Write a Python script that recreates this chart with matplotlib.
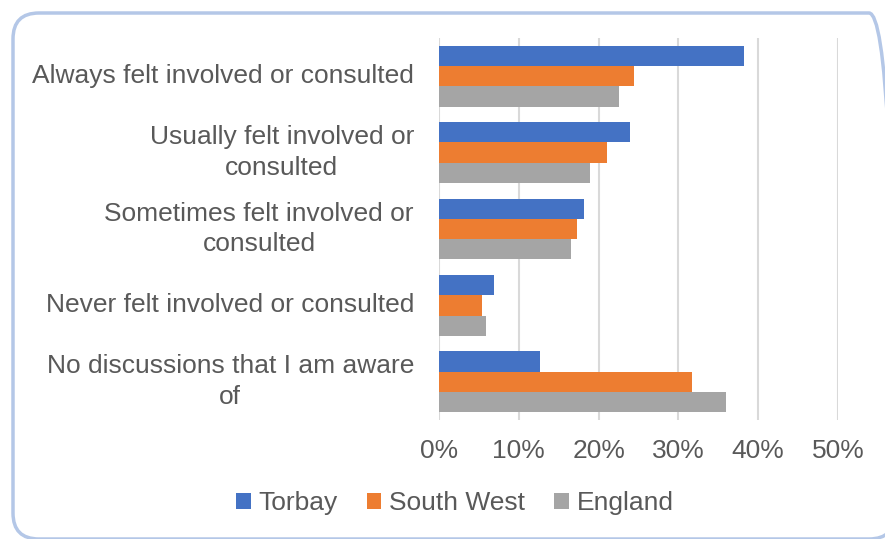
import numpy as np
import matplotlib
matplotlib.use("Agg")
import matplotlib.pyplot as plt
from matplotlib.patches import FancyBboxPatch
from matplotlib.ticker import PercentFormatter

plt.rcParams['font.family'] = ['Liberation Sans', 'DejaVu Sans']

categories = ["Always felt involved or consulted",
              "Usually felt involved or\nconsulted",
              "Sometimes felt involved or\nconsulted",
              "Never felt involved or consulted",
              "No discussions that I am aware\nof"]
series_names = ["Torbay", "South West", "England"]
torbay = [38.2, 23.9, 18.2, 6.9, 12.6]
south_west = [24.4, 21.0, 17.3, 5.4, 31.7]
england = [22.6, 18.9, 16.5, 5.9, 36.0]
xticks = [0, 10, 20, 30, 40, 50]

colors = ["#4472C4", "#ED7D31", "#A5A5A5"]
text_col = "#595959"

fig = plt.figure(figsize=(8.85, 5.39), dpi=100)
ax = fig.add_axes([439/885, 1-420/539, (838-439)/885, (420-38)/539])

# rounded frame around the whole chart (in inches)
frame = FancyBboxPatch((0.13, 0.0), 8.82, 5.26, boxstyle="round,pad=0,rounding_size=0.26",
                       transform=fig.dpi_scale_trans, facecolor="none", edgecolor="#B4C7E7",
                       linewidth=2.5, zorder=0)
fig.patches.append(frame)

y = np.arange(len(categories))
h = 0.265
for i, (vals, name) in enumerate(zip([torbay, south_west, england], series_names)):
    ax.barh(y + (i - 1) * h, vals, height=h, color=colors[i], label=name, zorder=3)

ax.set_ylim(len(categories) - 0.5, -0.5)
ax.set_xlim(0, 50)
ax.set_xticks(xticks)
ax.xaxis.set_major_formatter(PercentFormatter(decimals=0))
ax.set_yticks(y)
ax.set_yticklabels(categories)
ax.grid(axis='x', color="#D9D9D9", linewidth=1.5, zorder=0)
for s in ax.spines.values():
    s.set_visible(False)
ax.tick_params(axis='both', length=0, colors=text_col, labelsize=19)
ax.tick_params(axis='y', pad=18)
ax.tick_params(axis='x', pad=14)
for lab in ax.get_yticklabels():
    lab.set_horizontalalignment('right')
    lab.set_verticalalignment('center')
    lab.set_multialignment('center')
    lab.set_linespacing(1.35)

ax.legend(loc='center', bbox_to_anchor=(455/885, 1-503/539), bbox_transform=fig.transFigure,
          ncol=3, frameon=False, fontsize=19, labelcolor=text_col, handlelength=0.55,
          handleheight=0.55, handletextpad=0.3, columnspacing=1.1)

fig.savefig("out.png", dpi=100)
